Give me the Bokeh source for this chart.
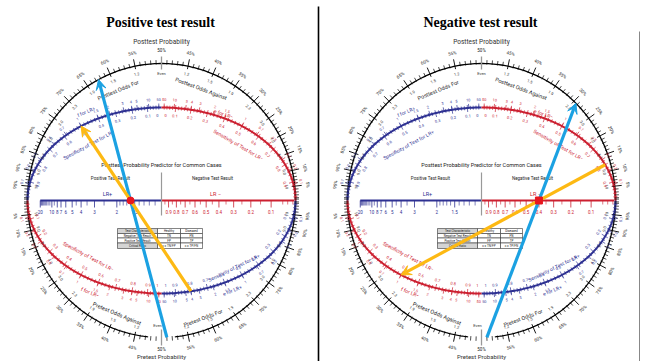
import math
from collections import defaultdict
import numpy as np
from bokeh.plotting import figure
from bokeh.models import Range1d, Arrow, VeeHead, ColumnDataSource
from bokeh.core.properties import value
from bokeh.embed import file_html
from bokeh.resources import INLINE

# ---------------------------------------------------------------- data
panel_titles = ["Positive test result", "Negative test result"]
sensitivity = 0.80
specificity = 0.50
pretest_probability = 0.51

pct_labels_high = [55, 60, 65, 70, 75, 80, 85, 90, 95]
pct_labels_low = [45, 40, 35, 30, 25, 20, 15, 10, 5]
pct_ticks = [0.5] + list(range(1, 100)) + [99.5]

lr_pos_labels = [20, 10, 8, 7, 6, 5, 4, 3, 2, 1.5]
lr_pos_minor = [1.1, 1.2, 1.3, 1.4, 1.6, 1.7, 1.8, 1.9, 2.5, 3.5, 4.5,
                9, 11, 12, 13, 14, 15, 16, 17, 18, 19]
lr_neg_labels = [0.9, 0.8, 0.7, 0.6, 0.5, 0.4, 0.3, 0.2, 0.1]
lr_neg_minor = [0.95, 0.85, 0.75, 0.65, 0.55, 0.45, 0.35, 0.25, 0.15,
                0.05, 0.03, 0.01]

sens_spec_labels = [0.1, 0.2, 0.3, 0.4, 0.5, 0.6, 0.7, 0.8, 0.9]
sens_spec_ticks = [i / 50 for i in range(1, 50)]
ratio_labels = [50, 10, 5, 4, 3, 2, 1.5, 1, 0.7, 0.5, 0.3, 0.2, 0.1]

table_rows = [
    ["Test Characteristic", "Healthy", "Diseased"],
    ["Negative Test Result", "TN", "FN"],
    ["Positive Test Result", "FP", "TP"],
    ["Critical Ratio", "c = TN/FP", "c = TP/FN"],
]

# ---------------------------------------------------------------- style / geometry
PAGE_W, PAGE_H = 648, 361
OA, OB = 134.0, 137.0      # outer probability circle
IA, IB = 134.0, 93.0       # inner sensitivity/specificity ellipse
LRA = 134.0                # LR axis half length
BLUE = "#2e3192"
RED = "#cc2030"
ARROW_BLUE = "#1ba1e2"
ARROW_YELLOW = "#fdb913"
DOT_RED = "#e8161f"
centers_page = [(161, 200), (481, 200)]

p = figure(width=PAGE_W, height=PAGE_H, x_range=Range1d(0, PAGE_W), y_range=Range1d(0, PAGE_H),
           output_backend="svg", toolbar_location=None, min_border=0,
           x_axis_location=None, y_axis_location=None)
p.grid.visible = False
p.outline_line_color = None
p.background_fill_color = "white"
p.border_fill_color = "white"

texts = defaultdict(lambda: dict(x=[], y=[], text=[], angle=[]))
segs = defaultdict(lambda: dict(x0=[], y0=[], x1=[], y1=[]))


def add_text(x, y, s, angle=0.0, size=5.0, color="#222222", font="Roboto", style="normal"):
    g = texts[(size, color, font, style)]
    g["x"].append(x); g["y"].append(y); g["text"].append(s); g["angle"].append(angle)


def add_seg(x0, y0, x1, y1, color, width):
    g = segs[(color, width)]
    g["x0"].append(x0); g["y0"].append(y0); g["x1"].append(x1); g["y1"].append(y1)


def ell(cx, cy, a, b, th, off=0.0):
    t = math.radians(th)
    nx, ny = b * math.cos(t), a * math.sin(t)
    n = math.hypot(nx, ny)
    return cx + a * math.cos(t) + off * nx / n, cy + b * math.sin(t) + off * ny / n


def tang(a, b, th):
    t = math.radians(th)
    if math.sin(t) >= -1e-9:
        return math.atan2(-b * math.cos(t), a * math.sin(t))
    return math.atan2(b * math.cos(t), -a * math.sin(t))


def arc(cx, cy, a, b, t0, t1, color, width):
    t = np.radians(np.linspace(t0, t1, 160))
    p.line(cx + a * np.cos(t), cy + b * np.sin(t), line_color=color, line_width=width)


def th_post(q):
    return math.degrees(2 * math.atan(q / (1 - q)))


def th_pre(q):
    return math.degrees(2 * math.atan(q / (1 - q))) - 180


def x_lr(cx, lr):
    return cx + LRA * (1 - lr) / (1 + lr)


def th_spec_pos(sp):
    return 90 + math.degrees(2 * math.atan(sp / (2 - sp)))


def th_sens_pos(s):
    return -90 + math.degrees(2 * math.atan((1 - s) / (1 + s)))


def th_sens_neg(s):
    return 90 - math.degrees(2 * math.atan(s / (2 - s)))


def th_spec_neg(sp):
    return -90 - math.degrees(2 * math.atan((1 - sp) / (1 + sp)))


def fmt(v):
    if v >= 10:
        return f"{v:.0f}"
    return f"{v:.1f}"


def draw_panel(cx, cy, title):
    add_text(cx - 1, PAGE_H - 22, title, 0.0, 14, "black", "Liberation Serif", "bold")
    # ---- outer probability circle
    arc(cx, cy, OA, OB, 0, 180, "black", 1.3)
    arc(cx, cy, OA, OB, -180, th_pre(0.475), "black", 1.3)
    arc(cx, cy, OA, OB, th_pre(0.525), 0, "black", 1.3)
    majors = set(pct_labels_high + pct_labels_low)
    for q in pct_ticks:
        if q == 50:
            continue
        for th in (th_post(q / 100), th_pre(q / 100)):
            if q in majors:
                a0, a1, w = -3, 7, 0.9
            else:
                a0, a1, w = -1, 3.5, 0.7
            x0, y0 = ell(cx, cy, OA, OB, th, a0)
            x1, y1 = ell(cx, cy, OA, OB, th, a1)
            add_seg(x0, y0, x1, y1, "black", w)
    for q in pct_labels_high + pct_labels_low:
        odds = q / (100 - q) if q > 50 else (100 - q) / q
        for th in (th_post(q / 100), th_pre(q / 100)):
            x, y = ell(cx, cy, OA, OB, th, 13)
            add_text(x, y, f"{q}%", tang(OA, OB, th), 4.5, "#222222")
            x, y = ell(cx, cy, OA, OB, th, -8)
            add_text(x, y, fmt(odds), tang(OA, OB, th), 4, "#333333")
    # 50 % / Even
    add_seg(*ell(cx, cy, OA, OB, 90, -6), *ell(cx, cy, OA, OB, 90, 7), "#999999", 1.3)
    add_seg(*ell(cx, cy, OA, OB, -90, -8), *ell(cx, cy, OA, OB, -90, 8), "#999999", 1.3)
    add_text(*ell(cx, cy, OA, OB, 90, 13), "50%", 0.0, 4.5, "#222222")
    add_text(*ell(cx, cy, OA, OB, -90, 12), "50%", 0.0, 4.5, "#222222")
    add_text(*ell(cx, cy, OA, OB, 90, -10), "Even", 0.0, 4, "#333333")
    add_text(cx - 4, cy - OB + 12, "Even", 0.0, 4, "#333333")
    for s, th, off in (("Posttest Odds For", 112, -18), ("Posttest Odds Against", 70, -18),
                       ("Pretest Odds Against", -112, -15), ("Pretest Odds For", -70, -12)):
        x, y = ell(cx, cy, OA, OB, th, off)
        add_text(x, y, s, tang(OA, OB, th), 5.5, "#222222")
    add_text(cx, PAGE_H - 41, "Posttest Probability", 0.0, 6.5, "#333333")
    add_text(cx, PAGE_H - 356, "Pretest Probability", 0.0, 6, "#333333")

    # ---- inner ellipse (sensitivity / specificity scales)
    arc(cx, cy, IA, IB, 90, 180, BLUE, 2)
    arc(cx, cy, IA, IB, -90, 0, BLUE, 2)
    arc(cx, cy, IA, IB, 0, 90, RED, 2)
    arc(cx, cy, IA, IB, -180, -90, RED, 2)
    quads = [
        (BLUE, th_spec_pos, lambda r: 1 / (1 + r), "0", 91.8),
        (RED, th_sens_neg, lambda r: 1 / (1 + r), "0", 88.2),
        (BLUE, th_sens_pos, lambda r: r / (1 + r), "1", -88.2),
        (RED, th_spec_neg, lambda r: r / (1 + r), "1", -91.8),
    ]
    for color, fth, rconv, endlab, endth in quads:
        for v in sens_spec_ticks:
            th = fth(v)
            major = abs(v * 10 - round(v * 10)) < 1e-9
            a0, a1 = (-4, 3) if major else (-2, 2)
            add_seg(*ell(cx, cy, IA, IB, th, a0), *ell(cx, cy, IA, IB, th, a1), color, 0.7)
        for v in sens_spec_labels:
            th = fth(v)
            add_text(*ell(cx, cy, IA, IB, th, -8), f"{v:g}", tang(IA, IB, th), 4, color)
        add_text(*ell(cx, cy, IA, IB, endth, -8), endlab, 0.0, 4, color)
        for r in ratio_labels:
            th = fth(rconv(r))
            add_seg(*ell(cx, cy, IA, IB, th, 0), *ell(cx, cy, IA, IB, th, 4), color, 0.7)
            add_text(*ell(cx, cy, IA, IB, th, 8), f"{r:g}", tang(IA, IB, th), 3.8, color)
    for s, th, off, color in (("Specificity of Test for LR+", 128, -20, BLUE),
                              ("f for LR+", 122, 11, BLUE),
                              ("Sensitivity of Test for LR\u2212", 50, -18, RED),
                              ("e for LR\u2212", 63, 4, RED),
                              ("Specificity of Test for LR\u2212", -128, -20, RED),
                              ("f for LR\u2212", -120, 12, RED),
                              ("Sensitivity of Test for LR+", -55, -10, BLUE),
                              ("e for LR+", -60, 10, BLUE)):
        x, y = ell(cx, cy, IA, IB, th, off)
        add_text(x, y, s, tang(IA, IB, th), 5, color)

    # ---- LR axis
    p.line([x_lr(cx, 20), cx], [cy, cy], line_color=BLUE, line_width=2)
    p.line([cx, x_lr(cx, 0.005)], [cy, cy], line_color=RED, line_width=2)
    for lr in lr_pos_labels:
        add_seg(x_lr(cx, lr), cy, x_lr(cx, lr), cy - 7, BLUE, 0.8)
        add_text(x_lr(cx, lr), cy - 11.5, f"{lr:g}", 0.0, 4.5, BLUE)
    for lr in lr_pos_minor:
        add_seg(x_lr(cx, lr), cy, x_lr(cx, lr), cy - 5, BLUE, 0.6)
    for lr in lr_neg_labels:
        add_seg(x_lr(cx, lr), cy, x_lr(cx, lr), cy - 7, RED, 0.8)
        add_text(x_lr(cx, lr), cy - 11.5, f"{lr:g}", 0.0, 4.5, RED)
    for lr in lr_neg_minor:
        add_seg(x_lr(cx, lr), cy, x_lr(cx, lr), cy - 4, RED, 0.6)
    add_seg(cx, cy + 28, cx, cy - 15, "#999999", 1.2)
    add_text(cx, cy + 36, "Posttest Probability Predictor for Common Cases", 0.0, 5.5, "#222222")
    add_text(cx - 51, cy + 22, "Positive Test Result", 0.0, 4.5, "#222222")
    add_text(cx + 51, cy + 22, "Negative Test Result", 0.0, 4.5, "#222222")
    add_text(cx - 54, cy + 7, "LR+", 0.0, 5.5, BLUE)
    add_text(cx + 54, cy + 7, "LR \u2212", 0.0, 5.5, RED)

    # ---- table
    colx = [cx - 44, cx - 4, cx + 19, cx + 41]
    rowy = [cy - 28, cy - 33, cy - 37.5, cy - 42.5, cy - 48]
    L, R_, T, B, F = [], [], [], [], []
    for i, row in enumerate(table_rows):
        for j, cell in enumerate(row):
            L.append(colx[j]); R_.append(colx[j + 1]); T.append(rowy[i]); B.append(rowy[i + 1])
            F.append("#d4d4d4" if (j == 0 and i in (0, 3)) else "white")
            add_text((colx[j] + colx[j + 1]) / 2, (rowy[i] + rowy[i + 1]) / 2, cell, 0.0, 3, "#222222")
    p.quad(left=L, right=R_, top=T, bottom=B, fill_color=F, line_color="#333333", line_width=0.6)


for (pcx, pcy), title in zip(centers_page, panel_titles):
    draw_panel(pcx, PAGE_H - pcy, title)

for (color, width), g in segs.items():
    p.segment(x0="x0", y0="y0", x1="x1", y1="y1", source=ColumnDataSource(g),
              line_color=color, line_width=width)
for (size, color, font, style), g in texts.items():
    p.text(x="x", y="y", text="text", angle="angle", source=ColumnDataSource(g),
           text_font=value(font), text_font_size=f"{size}px", text_color=color,
           text_font_style=style, text_align="center", text_baseline="middle")

# separators
p.line([318, 318], [PAGE_H - 6, 0], line_color="black", line_width=1.6)
p.line([639, 639], [PAGE_H - 31, 0], line_color="#888888", line_width=1)

# ---- worked example arrows
pre_odds = pretest_probability / (1 - pretest_probability)
lr_plus = sensitivity / (1 - specificity)
lr_minus = (1 - sensitivity) / specificity
examples = [
    (lr_plus, th_sens_pos(sensitivity), th_spec_pos(specificity), "circle"),
    (lr_minus, th_sens_neg(sensitivity), th_spec_neg(specificity), "square"),
]
for (pcx, pcy), (lr, th_a, th_b, marker) in zip(centers_page, examples):
    cx, cy = pcx, PAGE_H - pcy
    post_odds = pre_odds * lr
    post_p = post_odds / (1 + post_odds)
    xs, ys = ell(cx, cy, OA, OB, th_pre(pretest_probability))
    xe, ye = ell(cx, cy, OA, OB, th_post(post_p))
    p.add_layout(Arrow(x_start=xs, y_start=ys, x_end=xe, y_end=ye, line_color=ARROW_BLUE,
                       line_width=3.2,
                       end=VeeHead(size=10, line_color=ARROW_BLUE, fill_color=ARROW_BLUE,
                                   line_width=1)))
    xs, ys = ell(cx, cy, IA, IB, th_a)
    xe, ye = ell(cx, cy, IA, IB, th_b)
    p.add_layout(Arrow(x_start=xs, y_start=ys, x_end=xe, y_end=ye, line_color=ARROW_YELLOW,
                       line_width=3.2,
                       end=VeeHead(size=10, line_color=ARROW_YELLOW, fill_color=ARROW_YELLOW,
                                   line_width=1)))
    r = p.scatter([x_lr(cx, lr)], [cy], marker=marker, size=7, fill_color=DOT_RED,
                  line_color=DOT_RED)
    r.level = "overlay"

open("out.html", "w").write(file_html(p, INLINE))
